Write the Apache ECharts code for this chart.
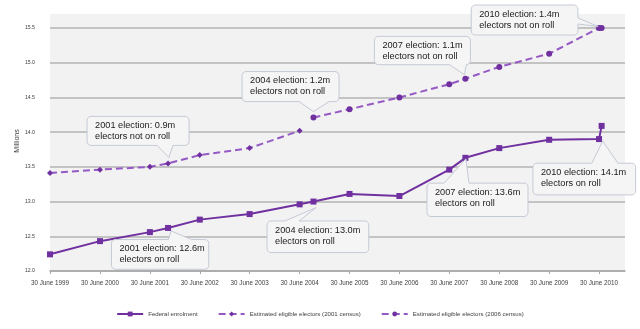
<!DOCTYPE html>
<html>
<head>
<meta charset="utf-8">
<script src="https://cdn.jsdelivr.net/npm/echarts@6/dist/echarts.min.js"></script>
<style>html,body{margin:0;padding:0;background:#fff;}#c{width:640px;height:329px;}</style>
</head>
<body>
<div id="c"></div>
<script>
// ---- data ----
const fedDates = ['1999-06-30','2000-06-30','2001-06-30','2001-11-10','2002-06-30','2003-06-30','2004-06-30','2004-10-09','2005-06-30','2006-06-30','2007-06-30','2007-10-26','2008-06-30','2009-06-30','2010-06-30','2010-07-19'];
const fedValues = [12.24,12.43,12.56,12.62,12.74,12.82,12.96,13.00,13.11,13.08,13.46,13.63,13.77,13.89,13.90,14.09];
const c2001Dates = ['1999-06-30','2000-06-30','2001-06-30','2001-11-10','2002-06-30','2003-06-30','2004-06-30'];
const c2001Values = [13.41,13.46,13.50,13.55,13.67,13.77,14.02];
const c2006Dates = ['2004-10-09','2005-06-30','2006-06-30','2007-06-30','2007-10-26','2008-06-30','2009-06-30','2010-06-30','2010-07-19'];
const c2006Values = [14.21,14.33,14.50,14.69,14.77,14.94,15.13,15.50,15.50];
const tickDates = ['1999-06-30','2000-06-30','2001-06-30','2002-06-30','2003-06-30','2004-06-30','2005-06-30','2006-06-30','2007-06-30','2008-06-30','2009-06-30','2010-06-30'];
const xMinDate = '1999-06-30', xMaxDate = '2011-01-06';
const seriesNames = ['Federal enrolment','Estimated eligible electors (2001 census)','Estimated eligible electors (2006 census)'];
const calloutTexts = [
  '2001 election: 0.9m\nelectors not on roll',
  '2004 election: 1.2m\nelectors not on roll',
  '2007 election: 1.1m\nelectors not on roll',
  '2010 election: 1.4m\nelectors not on roll',
  '2001 election: 12.6m\nelectors on roll',
  '2004 election: 13.0m\nelectors on roll',
  '2007 election: 13.6m\nelectors on roll',
  '2010 election: 14.1m\nelectors on roll'
];
// anchors: [seriesIndex, dataIndex]
const calloutAnchors = [[1,3],[2,0],[2,4],[2,8],[0,3],[0,7],[0,11],[0,15]];

// ---- layout of callouts (relative to anchor pixel) ----
const calloutLayout = [
  {box:[-81,-47,102,29], side:'bottom', base:[70,86], tip:[0.7,-6]},
  {box:[-71.4,-46,97,30], side:'bottom', base:[57,87], tip:[0,-6]},
  {box:[-91,-42.3,96,28.3], side:'bottom', base:[75,92], tip:[-1,-4]},
  {box:[-130.4,-23,106.7,30], side:'right', base:[13,19], tip:[-3.5,-1.5]},
  {box:[-56.6,11.6,97.3,29.7], side:'top', base:[57,80], tip:[3,3]},
  {box:[-46.4,19.4,101.7,31.6], side:'top', base:[18,32], tip:[2.6,6]},
  {box:[-38.4,25.3,101,33.4], side:'top', base:[17,42], tip:[0.5,1]},
  {box:[-68.7,37.3,102.7,31.7], side:'top', base:[59,85], tip:[1,15]}
];

const solid = '#7030a0', dashC = '#9559c4';
function ts(s){ const p=s.split('-').map(Number); return Date.UTC(p[0],p[1]-1,p[2]); }
function pairs(d, v){ return d.map((x,i)=>[ts(x), v[i]]); }
const tickTs = tickDates.map(ts);

const chart = echarts.init(document.getElementById('c'), null, {renderer:'canvas'});
const option = {
  animation: false,
  grid: {left:50, right:15, top:28, bottom:58, show:true, backgroundColor:'#f2f2f2', borderWidth:0},
  xAxis: {
    type:'value', min:ts(xMinDate), max:ts(xMaxDate),
    axisLine:{show:true, lineStyle:{color:'#a6a6a6', width:1.5}},
    axisTick:{show:true, customValues: tickTs, length:3, lineStyle:{color:'#a6a6a6'}},
    axisLabel:{customValues: tickTs, fontSize:6.3, color:'#404040', fontFamily:'Liberation Sans', margin:9,
      formatter: function(v){ return '30 June ' + new Date(v).getUTCFullYear(); }},
    splitLine:{show:false}
  },
  yAxis: {
    type:'value', min:12, max:15.5, interval:0.5,
    axisLine:{show:false}, axisTick:{show:false},
    axisLabel:{fontSize:5.2, color:'#404040', fontFamily:'Liberation Sans', margin:15, formatter: v=>v.toFixed(1)},
    splitLine:{lineStyle:{color:'#b3b3b3', width:1.5}}
  },
  legend: {
    bottom:7, left:'center', itemGap:20, itemWidth:26, itemHeight:6,
    textStyle:{fontSize:6.1, color:'#404040', fontFamily:'Liberation Sans'},
    data: seriesNames
  },
  series: [
    {name:seriesNames[0], type:'line', data:pairs(fedDates, fedValues), symbol:'rect', symbolSize:6,
     lineStyle:{color:solid, width:2}, itemStyle:{color:solid}, z:3},
    {name:seriesNames[1], type:'line', data:pairs(c2001Dates, c2001Values), symbol:'diamond', symbolSize:6,
     lineStyle:{color:dashC, width:2, type:[7,4]}, itemStyle:{color:solid}, z:2},
    {name:seriesNames[2], type:'line', data:pairs(c2006Dates, c2006Values), symbol:'circle', symbolSize:6,
     lineStyle:{color:dashC, width:2, type:[7,4]}, itemStyle:{color:solid}, z:2}
  ]
};
chart.setOption(option);

const allDates = [fedDates, c2001Dates, c2006Dates];
const allValues = [fedValues, c2001Values, c2006Values];
function roundRectPoly(x,y,w,h,r,side,b0,b1,tx,ty){
  const pts = [];
  const arc = (cx,cy,a0)=>{ for(let k=0;k<=4;k++){ const a=(a0+k*22.5)*Math.PI/180; pts.push([cx+r*Math.cos(a), cy+r*Math.sin(a)]); } };
  arc(x+r,y+r,180);
  if(side==='top'){ pts.push([x+b0,y],[tx,ty],[x+b1,y]); }
  arc(x+w-r,y+r,270);
  if(side==='right'){ pts.push([x+w,y+b0],[tx,ty],[x+w,y+b1]); }
  arc(x+w-r,y+h-r,0);
  if(side==='bottom'){ pts.push([x+b1,y+h],[tx,ty],[x+b0,y+h]); }
  arc(x+r,y+h-r,90);
  return pts;
}
const graphics = [
  {type:'rect', shape:{x:50, y:14, width:575, height:14}, style:{fill:'#f2f2f2'}, z:-10, silent:true},
  {type:'text', x:17, y:141, rotation:Math.PI/2, style:{text:'Millions', fontSize:7, fontFamily:'Liberation Sans', fill:'#404040', align:'center', verticalAlign:'middle'}}
];
calloutAnchors.forEach((a,i)=>{
  const s=a[0], idx=a[1];
  const p = chart.convertToPixel({seriesIndex:s}, [ts(allDates[s][idx]), allValues[s][idx]]);
  const L = calloutLayout[i];
  const x=p[0]+L.box[0], y=p[1]+L.box[1], w=L.box[2], h=L.box[3];
  const pts = roundRectPoly(x,y,w,h,4,L.side,L.base[0],L.base[1],p[0]+L.tip[0],p[1]+L.tip[1]);
  graphics.push({type:'polygon', shape:{points:pts}, style:{fill:'#f5f5f5', stroke:'#c4cad5', lineWidth:1}, z:100});
  graphics.push({type:'text', x:x+8, y:y+3.5, z:101, style:{text:calloutTexts[i], fontSize:9.2, fontFamily:'Liberation Sans', fill:'#1a1a1a', lineHeight:11, verticalAlign:'top'}});
});
chart.setOption({graphic:{elements:graphics}});
</script>
</body>
</html>
